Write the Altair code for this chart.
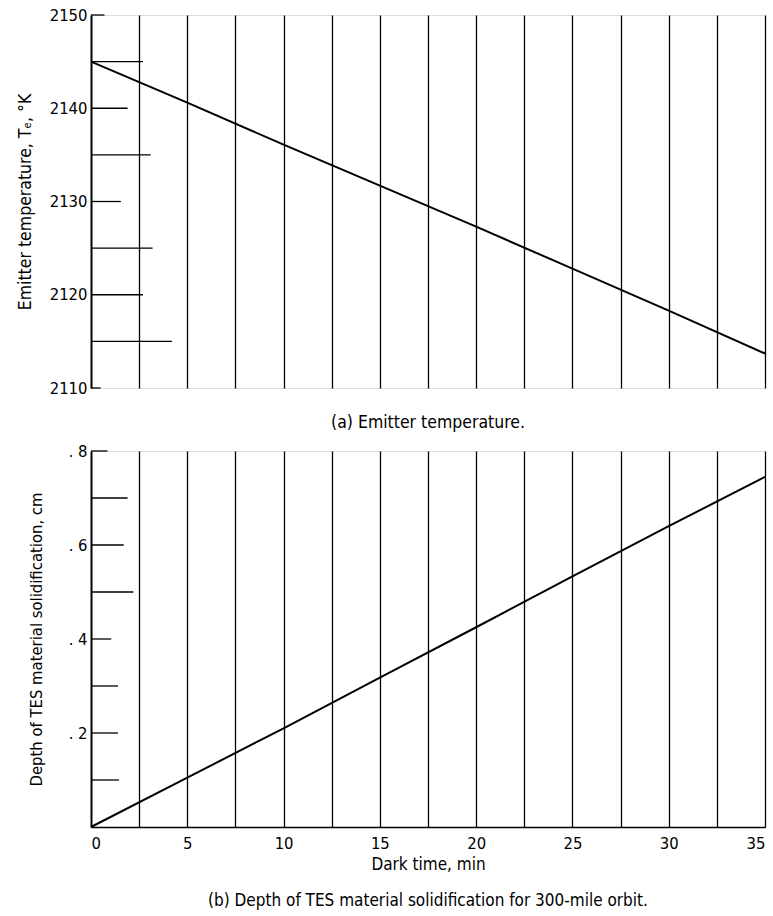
import altair as alt
import pandas as pd

# ---- data ----
time_min = [0, 5, 10, 15, 20, 25, 30, 35]
emitter_temp_K = [2145.0, 2140.6, 2136.1, 2131.7, 2127.3, 2122.8, 2118.3, 2113.7]
depth_cm = [0.0, 0.105, 0.21, 0.318, 0.425, 0.533, 0.64, 0.745]

grid_x = [0, 2.5, 5, 7.5, 10, 12.5, 15, 17.5, 20, 22.5, 25, 27.5, 30, 32.5, 35]
x_labels = [0, 5, 10, 15, 20, 25, 30, 35]
temp_labels = [2110, 2120, 2130, 2140, 2150]
depth_labels = [0.2, 0.4, 0.6, 0.8]

# short horizontal reference marks drawn in from the y axis (length in minutes)
temp_marks = [2110, 2115, 2120, 2125, 2130, 2135, 2140, 2145, 2150]
temp_mark_len = [0.5, 4.2, 2.7, 3.2, 1.55, 3.1, 1.9, 2.7, 0.7]
depth_marks = [0.1, 0.2, 0.3, 0.4, 0.5, 0.6, 0.7, 0.8]
depth_mark_len = [1.45, 1.4, 1.4, 1.05, 2.2, 1.7, 1.9, 0.85]

FONT = "DejaVu Sans Condensed, Liberation Sans, sans-serif"
W = 674

df_top = pd.DataFrame({"t": time_min, "T": emitter_temp_K})
df_bot = pd.DataFrame({"t": time_min, "d": depth_cm})
df_tm = pd.DataFrame({"x0": [0] * len(temp_marks), "len": temp_mark_len, "v": temp_marks})
df_dm = pd.DataFrame({"x0": [0] * len(depth_marks), "len": depth_mark_len, "v": depth_marks})

xscale = alt.Scale(domain=[0, 35], nice=False, zero=False)
common_axis = dict(labelFont=FONT, titleFont=FONT, labelFontSize=16.5,
                   titleFontWeight="normal", labelColor="black", titleColor="black")

x_axis_top = alt.Axis(values=grid_x, grid=True, gridColor="black", gridWidth=1.3, gridOpacity=1,
                      labels=False, ticks=False, domain=False, title=None)
x_axis_bot = alt.Axis(values=grid_x, grid=True, gridColor="black", gridWidth=1.3, gridOpacity=1,
                      ticks=False, domain=True, domainColor="black", domainWidth=1.5,
                      labelExpr="datum.value % 5 == 0 ? datum.label : ''",
                      labelPadding=8, title="Dark time,  min", titlePadding=5,
                      titleFontSize=17, **common_axis)

y_axis_top = alt.Axis(values=temp_labels, grid=False, ticks=False, domain=True,
                      domainColor="black", domainWidth=1.8, labelPadding=4,
                      format="d", title="Emitter temperature, T\u2091, \u00b0K", titlePadding=15,
                      titleFontSize=17.5, **common_axis)
y_axis_bot = alt.Axis(values=depth_labels, grid=False, ticks=False, domain=True,
                      domainColor="black", domainWidth=1.8, labelPadding=4,
                      labelExpr="replace(format(datum.value, '.1f'), '0.', '. ')",
                      title="Depth of TES material solidification, cm", titlePadding=24,
                      titleFontSize=16.5, **common_axis)

ys_top = alt.Scale(domain=[2110, 2150], nice=False, zero=False)
ys_bot = alt.Scale(domain=[0, 0.8], nice=False)

top_line = alt.Chart(df_top).mark_line(color="black", strokeWidth=2).encode(
    x=alt.X("t:Q", scale=xscale, axis=x_axis_top),
    y=alt.Y("T:Q", scale=ys_top, axis=y_axis_top),
)
top_marks = alt.Chart(df_tm).mark_rule(color="black", strokeWidth=1.3).encode(
    x=alt.X("x0:Q", scale=xscale, axis=x_axis_top),
    x2="len:Q",
    y=alt.Y("v:Q", scale=ys_top, axis=y_axis_top),
)
top = alt.layer(top_marks, top_line).properties(
    width=W, height=373,
    title=alt.TitleParams("(a) Emitter temperature.", orient="bottom", anchor="middle",
                          font=FONT, fontSize=17.5, fontWeight="normal", color="black", offset=17),
)

bot_line = alt.Chart(df_bot).mark_line(color="black", strokeWidth=2).encode(
    x=alt.X("t:Q", scale=xscale, axis=x_axis_bot),
    y=alt.Y("d:Q", scale=ys_bot, axis=y_axis_bot),
)
bot_marks = alt.Chart(df_dm).mark_rule(color="black", strokeWidth=1.3).encode(
    x=alt.X("x0:Q", scale=xscale, axis=x_axis_bot),
    x2="len:Q",
    y=alt.Y("v:Q", scale=ys_bot, axis=y_axis_bot),
)
bot = alt.layer(bot_marks, bot_line).properties(
    width=W, height=376,
    title=alt.TitleParams("(b) Depth of TES material solidification for 300-mile orbit.",
                          orient="bottom", anchor="middle", font=FONT, fontSize=17,
                          fontWeight="normal", color="black", offset=20),
)

chart = alt.vconcat(top, bot, spacing=10).properties(
    padding={"left": 15, "top": 6, "right": 2, "bottom": 5}
).configure_view(stroke=None).configure(background="white")

chart.save("out.html", embed_options={"renderer": "svg", "actions": False})
